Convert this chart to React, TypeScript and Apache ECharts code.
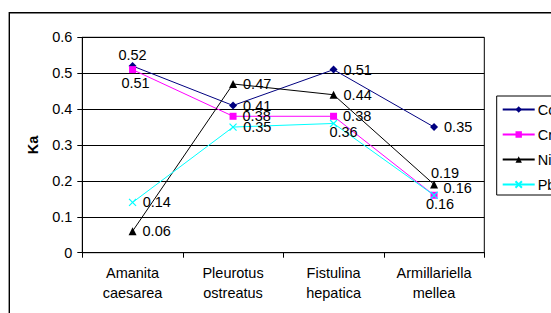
import React, { useEffect, useRef } from "react";
import * as echarts from "echarts";

const categories = ["Amanita\ncaesarea", "Pleurotus\nostreatus", "Fistulina\nhepatica", "Armillariella\nmellea"];
const seriesNames = ["Co", "Cr", "Ni", "Pb"];
const coValues = [0.52, 0.41, 0.51, 0.35];
const crValues = [0.51, 0.38, 0.38, 0.16];
const niValues = [0.06, 0.47, 0.44, 0.19];
const pbValues = [0.14, 0.35, 0.36, 0.16];
const yTicks = { min: 0, max: 0.6, interval: 0.1 };

const FONT = "'Liberation Sans', Arial, sans-serif";
const FS = 14.5;

type LabelSpec = { position: string; distance: number; offset: [number, number] };
const R: LabelSpec = { position: "right", distance: 6, offset: [0, 0] };

const coLabels: LabelSpec[] = [
  { position: "top", distance: 0, offset: [0, 0] },
  R, R, R,
];
const crLabels: LabelSpec[] = [
  { position: "bottom", distance: 2, offset: [3, 0] },
  R, R,
  { position: "right", distance: 6, offset: [0, -7] },
];
const niLabels: LabelSpec[] = [
  R, R, R,
  { position: "top", distance: 0, offset: [11, 0] },
];
const pbLabels: LabelSpec[] = [
  R, R,
  { position: "bottom", distance: -3, offset: [10, 0] },
  { position: "bottom", distance: -3, offset: [6, 0] },
];

function makeData(values: number[], labels: LabelSpec[]) {
  return values.map((v, i) => ({
    value: v,
    label: {
      show: true,
      position: labels[i].position,
      distance: labels[i].distance,
      offset: labels[i].offset,
    },
  }));
}

export default function App() {
  const ref = useRef<HTMLDivElement>(null);
  useEffect(() => {
    if (!ref.current) return;
    const chart = echarts.init(ref.current, null, { renderer: "svg" });
    const mkSeries = (
      name: string,
      values: number[],
      labels: LabelSpec[],
      color: string,
      symbol: string,
      symbolSize: number
    ) => ({
      name,
      type: "line",
      data: makeData(values, labels),
      symbol,
      symbolSize,
      lineStyle: { color, width: 1 },
      itemStyle: { color, borderColor: color, borderWidth: symbol.startsWith("path") ? 1.2 : 0 },
      label: {
        show: true,
        color: "#000",
        fontFamily: FONT,
        fontSize: FS,
        formatter: (p: any) => String(p.value),
      },
      emphasis: { disabled: true },
    });
    chart.setOption({
      animation: false,
      backgroundColor: "#fff",
      textStyle: { fontFamily: FONT },
      grid: { left: 82.3, top: 37.3, width: 402, height: 215.4, show: true, borderColor: "#000", borderWidth: 1 },
      legend: {
        orient: "vertical",
        left: 496.7,
        top: 96,
        itemWidth: 32,
        itemHeight: 8,
        itemGap: 10,
        padding: [6, 40, 3, 5],
        borderColor: "#000",
        borderWidth: 1,
        textStyle: { color: "#000", fontSize: FS, fontFamily: FONT, padding: [0, 0, 0, -2], lineHeight: 14 },
        data: seriesNames,
      },
      xAxis: {
        type: "category",
        data: categories,
        boundaryGap: true,
        axisLine: { lineStyle: { color: "#000", width: 1 } },
        axisTick: { show: true, length: 5, alignWithLabel: false, lineStyle: { color: "#000" } },
        axisLabel: { color: "#000", fontSize: FS, fontFamily: FONT, margin: 11, lineHeight: 19.4, interval: 0 },
      },
      yAxis: {
        type: "value",
        min: yTicks.min,
        max: yTicks.max,
        interval: yTicks.interval,
        name: "Ka",
        nameLocation: "middle",
        nameGap: 41.5,
        nameTextStyle: { color: "#000", fontWeight: "bold", fontSize: FS, fontFamily: FONT },
        axisLine: { show: true, lineStyle: { color: "#000", width: 1 } },
        axisTick: { show: true, length: 5, lineStyle: { color: "#000" } },
        axisLabel: {
          color: "#000",
          fontSize: FS,
          fontFamily: FONT,
          margin: 10,
          formatter: (v: number) => String(+v.toFixed(1)),
        },
        splitLine: { show: true, lineStyle: { color: "#000", width: 1 } },
      },
      graphic: [
        {
          type: "rect",
          shape: { x: 9.3, y: 12.7, width: 700, height: 400 },
          style: { fill: "none", stroke: "#000", lineWidth: 1.4 },
          silent: true,
          z: 100,
        },
      ],
      series: [
        mkSeries(seriesNames[0], coValues, coLabels, "#000080", "diamond", 8),
        mkSeries(seriesNames[1], crValues, crLabels, "#FF00FF", "rect", 7),
        mkSeries(seriesNames[2], niValues, niLabels, "#000000", "triangle", 8),
        mkSeries(seriesNames[3], pbValues, pbLabels, "#00FFFF", "path://M0,0L10,10M10,0L0,10", 7),
      ],
    });
    return () => chart.dispose();
  }, []);
  return (
    <div style={{ position: "fixed", left: 0, top: 0, width: 551, height: 313, overflow: "hidden", background: "#fff" }}>
      <div ref={ref} style={{ width: 640, height: 313 }} />
    </div>
  );
}
